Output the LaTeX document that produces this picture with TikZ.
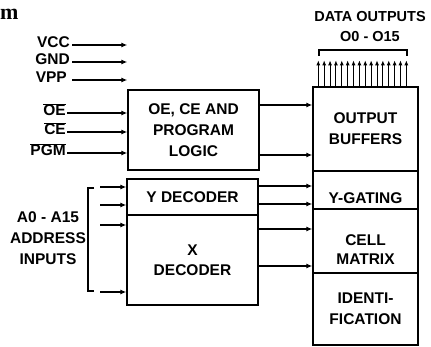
\documentclass[tikz,border=0pt]{standalone}
\usepackage{fontspec}
\setmainfont{Liberation Sans}
\newfontfamily\headfont{Liberation Serif}
\usetikzlibrary{arrows.meta}

\tikzset{
  txt/.style={font=\fontsize{15.5}{21}\selectfont\bfseries, align=center, inner sep=1pt},
  blk/.style={txt, draw, line width=1.4pt, inner sep=0pt},
  pin/.style={txt, anchor=east, text height=6pt, text depth=0pt},
  sig/.style={line width=1.1pt, -{Latex[length=6pt,width=5pt]}},
}
\newcommand{\lowact}[1]{\(\overline{\hbox{#1}}\)}

\begin{document}
\begin{tikzpicture}[x=1pt, y=-1pt]
\useasboundingbox (0,0) rectangle (431,347);
\node[anchor=base west, inner sep=0pt, font=\headfont\fontsize{22}{22}\selectfont\bfseries] (head) at (0,20) {m};

% blocks
\node[blk, minimum width=131pt, minimum height=80pt] (logic) at (193.5,130) {OE, CE AND\\PROGRAM\\LOGIC};
\node[blk, minimum width=131pt, minimum height=36pt] (ydec) at (192.5,197) {Y DECODER};
\node[blk, minimum width=131pt, minimum height=90pt] (xdec) at (192.5,260) {X\\[-1pt]DECODER};
\node[blk, minimum width=105pt, minimum height=84pt] (outbuf) at (365.5,129) {OUTPUT\\BUFFERS};
\node[blk, minimum width=105pt, minimum height=38pt] (ygate) at (365.5,190) {};
\node[blk, minimum width=105pt, minimum height=64pt] (cell) at (365.5,241) {};
\node[blk, minimum width=105pt, minimum height=72pt] (ident) at (365.5,309) {IDENTI-\\FICATION};
\node[txt] (ygatetxt) at (365.5,198) {Y-GATING};
\node[txt] (celltxt) at (365.5,250) {CELL\\[-2pt]MATRIX};

% pins
\node[pin] (vcc) at (71,45) {VCC};
\node[pin] (gnd) at (71,62) {GND};
\node[pin] (vpp) at (68,80) {VPP};
\node[pin] (oe) at (67,113) {\lowact{OE}};
\node[pin] (ce) at (67,132) {\lowact{CE}};
\node[pin] (pgm) at (67,153) {\lowact{PGM}};
\foreach \p in {vcc,gnd,vpp}
  \draw[sig] (\p.east -| 72,0) -- (\p.east -| logic.west);
\foreach \p in {oe,ce,pgm}
  \draw[sig] (\p.east) -- (\p.east -| logic.west);

% address inputs
\node[txt] (addr) at (48,238) {A0 - A15\\ADDRESS\\INPUTS};
\draw[line width=1.1pt] (94,188) -- (88,188) -- (88,291) -- (94,291);
\foreach \y in {187,205}
  \draw[sig] (100,\y) -- (ydec.west |- 0,\y);
\foreach \y in {225,292}
  \draw[sig] (100,\y) -- (xdec.west |- 0,\y);

% internal paths
\draw[sig] ([yshift=25pt]logic.east) -- ([yshift=25pt]logic.east -| outbuf.west);
\draw[sig] ([yshift=-25pt]logic.east) -- ([yshift=-25pt]logic.east -| outbuf.west);
\foreach \y in {186,204}
  \draw[sig] (ydec.east |- 0,\y) -- (ygate.west |- 0,\y);
\foreach \y in {229,266}
  \draw[sig] (xdec.east |- 0,\y) -- (cell.west |- 0,\y);

% data outputs
\node[txt, font=\fontsize{14.5}{20}\selectfont\bfseries] (dout) at (370,27) {DATA OUTPUTS\\O0 - O15};
\draw[line width=1.1pt] (319,56) -- (319,50) -- (407,50) -- (407,56);
\foreach \i in {0,...,15}
  \draw[line width=1pt, -{Latex[length=5pt,width=4pt]}] ([xshift={(6+\i*5.87)*1pt}]outbuf.north west) -- ++(0,-26);
\end{tikzpicture}
\end{document}
